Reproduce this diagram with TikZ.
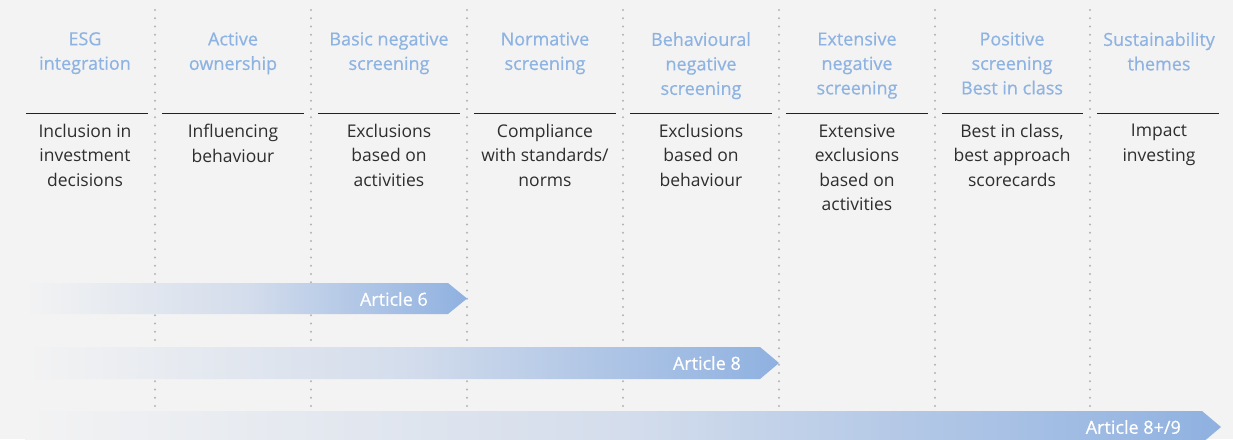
\documentclass[tikz,border=0pt]{standalone}
\usepackage{fontspec}
\setmainfont{Open Sans}
\newfontfamily\headfont[FakeBold=0.5]{Open Sans}
\begin{document}
\begin{tikzpicture}[x=1pt,y=-1pt,
  bodytext/.style={anchor=north,align=center,inner sep=0pt,text=textdark,
    font={\fontsize{17.5}{24.5}\selectfont}},
  headtext/.style={anchor=north,align=center,inner sep=0pt,text=headblue,
    font={\headfont\fontsize{18}{24.5}\selectfont}},
  colrule/.style={draw=ruleblack,line width=1pt},
  dotline/.style={draw=dotgrey,line width=2.2pt,line cap=round,dash pattern=on 0pt off 8.25pt},
  band/.style={left color=bgcol,right color=bandblue,middle color=bandmid},
  bandlabel/.style={anchor=east,inner sep=0pt,text=white,
    font={\headfont\fontsize{18}{20}\selectfont}}]
\definecolor{bgcol}{HTML}{F3F3F3}
\definecolor{headblue}{HTML}{8DB3E2}
\definecolor{textdark}{HTML}{2E2E2E}
\definecolor{ruleblack}{HTML}{222222}
\definecolor{dotgrey}{HTML}{B4B4B4}
\definecolor{bandblue}{HTML}{8FB1E0}
\definecolor{bandmid}{HTML}{D4DDEC}

\fill[bgcol] (0,0) rectangle (1233,439);
\useasboundingbox (0,0) rectangle (1233,439);
\clip (0,0) rectangle (1233,439);

% column separators
\foreach \x in {155,311,467,623,779,935,1090}
  \draw[dotline] (\x,10) -- (\x,445);

% column rules
\foreach \a/\b in {26/148,162/304,318/460,474/616,630/772,786/928,942/1083,1097/1219}
  \draw[colrule] (\a,113) -- (\b,113);

% headings
\node[headtext] (h1) at (85,32) {ESG\\integration};
\node[headtext] (h2) at (233,32) {Active\\ownership};
\node[headtext] (h3) at (389,32) {Basic negative\\screening};
\node[headtext] (h4) at (545,32) {Normative\\screening};
\node[headtext] (h5) at (701,32) {Behavioural\\negative\\screening};
\node[headtext] (h6) at (857,32) {Extensive\\negative\\screening};
\node[headtext] (h7) at (1012,32) {Positive\\screening\\Best in class};
\node[headtext] (h8) at (1159,32) {Sustainability\\themes};

% descriptions
\node[bodytext] (d1) at (85,124) {Inclusion in\\investment\\decisions};
\node[bodytext] (d2) at (233,124) {Influencing\\behaviour};
\node[bodytext] (d3) at (389,124) {Exclusions\\based on\\activities};
\node[bodytext] (d4) at (545,124) {Compliance\\with standards/\\norms};
\node[bodytext] (d5) at (701,124) {Exclusions\\based on\\behaviour};
\node[bodytext] (d6) at (857,124) {Extensive\\exclusions\\based on\\activities};
\node[bodytext] (d7) at (1012,124) {Best in class,\\best approach\\scorecards};
\node[bodytext] (d8) at (1159,124) {Impact\\investing};

% regulatory bands
\shade[band] (25,283) -- (448,283) -- (467,298.5) -- (448,314) -- (25,314) -- cycle;
\shade[band] (25,347) -- (760,347) -- (779,363) -- (760,379) -- (25,379) -- cycle;
\shade[band] (25,411) -- (1202,411) -- (1221,427) -- (1202,443) -- (25,443) -- cycle;

\node[bandlabel] (a6) at (428,299) {Article 6};
\node[bandlabel] (a8) at (741,363) {Article 8};
\node[bandlabel] (a9) at (1181,427) {Article 8+/9};
\end{tikzpicture}
\end{document}
